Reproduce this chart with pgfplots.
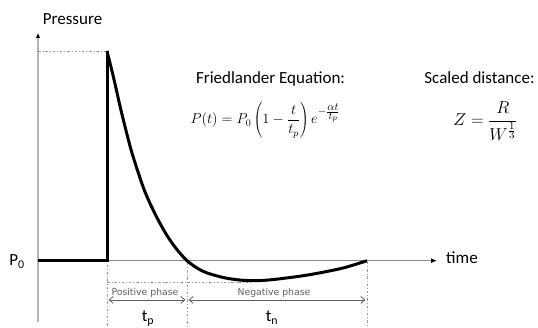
\documentclass[border=0pt]{standalone}
\usepackage[no-math]{fontspec}
\setmainfont{Carlito}
\newfontfamily\phasefont{DejaVu Sans}
\usepackage{pgfplots}
\pgfplotsset{compat=1.18}
\usetikzlibrary{arrows.meta}

\definecolor{axisgray}{HTML}{8A8A8A}
\definecolor{vaxisgray}{HTML}{B4B4B4}
\definecolor{guidegray}{HTML}{9A9A9A}
\definecolor{phasegray}{HTML}{5E5E5E}

% exponent set at a fixed, larger size
\newcommand{\expo}[2]{\mbox{\fontsize{#1}{#1}\selectfont$#2$}}

% Friedlander blast wave: time in units of t_p, pressure in units of the peak overpressure
\pgfplotstableread{
t       p
0.000   1.000
0.084   0.870
0.179   0.711
0.300   0.530
0.421   0.385
0.500   0.305
0.625   0.205
0.750   0.120
0.875   0.053
1.000   0.000
1.130  -0.036
1.263  -0.060
1.475  -0.082
1.684  -0.093
1.888  -0.095
2.100  -0.089
2.513  -0.068
2.938  -0.036
3.250   0.000
}\friedlander

\begin{document}
\begin{tikzpicture}
\begin{axis}[
  scale only axis, width=538pt, height=327pt,
  xmin=-1.3375, xmax=5.3875, ymin=-0.3162, ymax=1.2432,
  hide axis, clip=false,
]
\coordinate (sw) at (rel axis cs:0,0);
\coordinate (ne) at (rel axis cs:1,1);

% pressure and time axes
\draw[vaxisgray, line width=1.5pt, -{Latex[length=5pt,width=4.5pt,color=black]}]
  (axis cs:-0.8625,-0.292) -- (axis cs:-0.8625,1.086);
\draw[axisgray, line width=1.5pt, -{Latex[length=6pt,width=5pt,color=black]}]
  (axis cs:-0.8625,0) -- (axis cs:4.125,0);

% guide lines
\tikzset{guide/.style={guidegray, line width=0.9pt, dash pattern=on 2.5pt off 2pt on 0.8pt off 2pt}}
\draw[guide] (axis cs:-0.8625,1) -- (axis cs:0,1);
\draw[guide] (axis cs:0,-0.02) -- (axis cs:0,-0.3162);
\draw[guide] (axis cs:1,-0.01) -- (axis cs:1,-0.3162);
\draw[guide] (axis cs:3.25,-0.005) -- (axis cs:3.25,-0.3162);
\draw[guide] (axis cs:0,-0.104) -- (axis cs:1.80,-0.104);

% phase durations
\draw[phasegray, line width=0.8pt, {Straight Barb[length=4pt,width=7pt]}-{Straight Barb[length=4pt,width=7pt]}]
  (axis cs:0.02,-0.187) -- (axis cs:0.98,-0.187);
\draw[phasegray, line width=0.8pt, {Straight Barb[length=4pt,width=7pt]}-{Straight Barb[length=4pt,width=7pt]}]
  (axis cs:1.02,-0.187) -- (axis cs:3.23,-0.187);
\node[phasegray, font=\phasefont\fontsize{9.3}{11}\selectfont] at (axis cs:0.475,-0.152) {Positive phase};
\node[phasegray, font=\phasefont\fontsize{9.3}{11}\selectfont] at (axis cs:2.0875,-0.152) {Negative phase};

% pressure history
\addplot[black, line width=3pt, line join=miter, miter limit=20] coordinates {(-0.8625,0) (0,0) (0,1)};
\addplot[black, line width=3pt, smooth] table[x=t, y=p] {\friedlander};

% labels
\tikzset{lbl/.style={font=\fontsize{17}{20}\selectfont, inner sep=0pt}}
\node[lbl, anchor=base] at (axis cs:-0.431,1.124) {Pressure};
\node[lbl, anchor=base west] at (axis cs:4.2375,-0.0157) {time};
\node[lbl, anchor=base] at (axis cs:-1.125,-0.023) {P\textsubscript{0}};
\node[lbl, anchor=base] at (axis cs:0.5125,-0.29) {t\textsubscript{p}};
\node[lbl, anchor=base] at (axis cs:2.0625,-0.29) {t\textsubscript{n}};
\node[lbl, anchor=base] at (axis cs:2.044,0.847) {Friedlander Equation:};
\node[lbl, anchor=base] at (axis cs:4.656,0.847) {Scaled distance:};
\node[lbl, anchor=base, font=\fontsize{14.5}{17}\selectfont] at (axis cs:1.98,0.652)
  {$\displaystyle P(t) = P_0\left(1-\frac{t}{t_p}\right)e^{\expo{11}{-\frac{\textstyle\alpha t}{\textstyle t_p}}}$};
\node[lbl, anchor=base, font=\fontsize{16}{19}\selectfont] at (axis cs:4.73,0.647)
  {$\displaystyle Z = \frac{R}{W^{\expo{11}{\frac{\textstyle 1}{\textstyle 3}}}}$};
\end{axis}
\pgfresetboundingbox
\useasboundingbox (sw) rectangle (ne);
\end{tikzpicture}
\end{document}
